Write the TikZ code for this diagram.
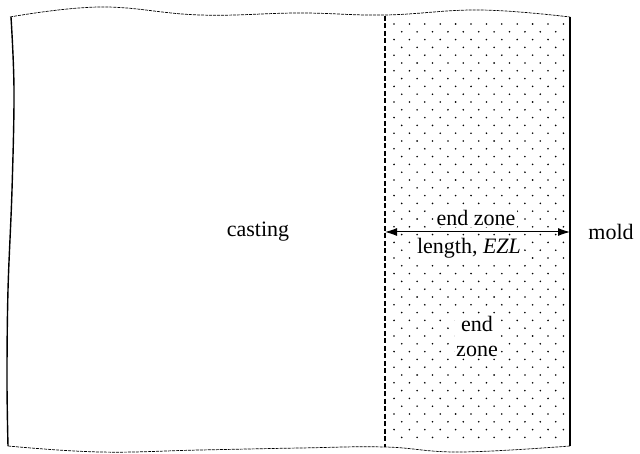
\documentclass[tikz,border=0pt]{standalone}
\usepackage{fontspec}
\setmainfont{Liberation Serif}
\newfontfamily\labelfont{Liberation Serif}
\usetikzlibrary{arrows.meta}
\begin{document}
\begin{tikzpicture}[x=1pt,y=-1pt,
  lbl/.style={font=\labelfont\fontsize{22}{25}\selectfont, inner sep=1.5pt},
  masked/.style={lbl, fill=white},
  breakline/.style={line width=0.7pt, dash pattern=on 3pt off 1pt}]
\useasboundingbox (0,0) rectangle (640,454);
% dotted filling of the end zone
\foreach \r in {0,...,54}{
  \pgfmathsetmacro{\yy}{24+7.8*\r}
  \pgfmathsetmacro{\off}{mod(\r,2)*7.7}
  \foreach \c in {0,...,11}{
    \pgfmathsetmacro{\xx}{394+\off+15.4*\c}
    \ifdim\xx pt<567pt
      \ifdim\yy pt<444pt
        \fill (\xx,\yy) circle (0.9);
      \fi
    \fi
  }
}
% break lines of the section
\draw[breakline] plot[smooth, tension=0.7] coordinates
  {(10,17) (100,7) (200,15) (300,13) (385,15) (480,10) (570,17)};
\draw[breakline] plot[smooth, tension=0.7] coordinates
  {(8,446) (100,452) (200,450) (300,448) (385,447) (460,452) (570,446)};
\draw[line width=1.4pt] plot[smooth, tension=0.6] coordinates
  {(11,17) (14,90) (12,190) (8,290) (7,380) (8,446)};
% interface and mold wall
\coordinate (dt) at (385,16);
\coordinate (db) at (385,447);
\coordinate (rt) at (570,17);
\coordinate (rb) at (570,446);
\draw[line width=1.6pt, dash pattern=on 5pt off 2.5pt] (dt) -- (db);
\draw[line width=1.2pt] (rt) -- (rb);
% labels
\node[lbl] (casting) at (258,232) {casting};
\node[lbl] (mold) at (611,232) {mold};
\node[masked] (ez) at (476,218) {end zone};
\node[masked] (len) at (469,248) {length, \textit{EZL}};
\node[masked, align=center, font=\labelfont\fontsize{22}{25}\selectfont] (zone) at (477,336) {end\\zone};
% dimension arrow
\coordinate (al) at (385,232);
\coordinate (ar) at (570,232);
\draw[line width=1pt, {Latex[length=12pt,width=8pt]}-{Latex[length=12pt,width=8pt]}] (al) -- (ar);
\end{tikzpicture}
\end{document}
